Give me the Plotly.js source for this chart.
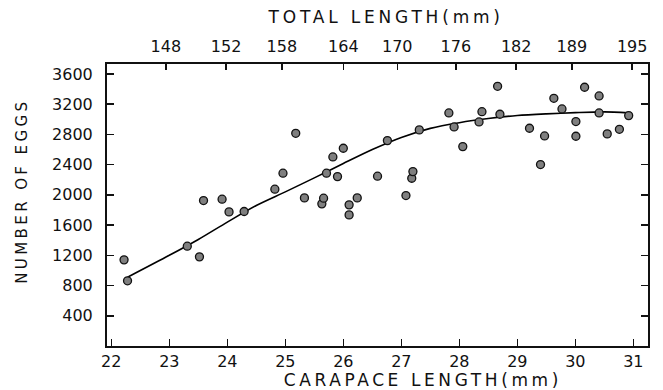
<!DOCTYPE html>
<html>
<head>
<meta charset="utf-8">
<script src="https://cdn.plot.ly/plotly-3.0.1.min.js"></script>
<style>
  html, body { margin: 0; padding: 0; background: #fff; }
  #chart { width: 663px; height: 390px; }
  .annotation[data-index="0"] text { letter-spacing: 3.6px; }
  .annotation[data-index="1"] text { letter-spacing: 3.8px; }
  .annotation[data-index="2"] text { letter-spacing: 3.4px; }
</style>
</head>
<body>
<div id="chart"></div>
<script>
// Egg counts against carapace length (individual females)
const carapaceLength = [
  22.22, 22.28, 23.31, 23.52, 23.59, 23.91, 24.03, 24.29, 24.82, 24.96,
  25.18, 25.33, 25.63, 25.66, 25.71, 25.82, 25.90, 26.00, 26.10, 26.10,
  26.24, 26.59, 26.76, 27.08, 27.18, 27.20, 27.31, 27.82, 27.91, 28.06,
  28.34, 28.39, 28.66, 28.70, 29.21, 29.40, 29.47, 29.63, 29.77, 30.01,
  30.01, 30.16, 30.41, 30.41, 30.55, 30.76, 30.92
];
const eggCount = [
  1140, 863, 1321, 1180, 1925, 1943, 1775, 1780, 2075, 2287,
  2815, 1960, 1881, 1956, 2287, 2502, 2242, 2617, 1868, 1735,
  1960, 2247, 2718, 1991, 2220, 2308, 2860, 3084, 2899, 2639,
  2965, 3101, 3437, 3067, 2882, 2401, 2780, 3278, 3137, 2970,
  2776, 3424, 3309, 3084, 2807, 2868, 3049
];

// Fitted curve
const fitLength = [22.28, 23.0, 23.5, 24.0, 24.5, 25.0, 25.5, 26.0, 26.5, 27.0,
                   27.5, 28.0, 28.5, 29.0, 29.5, 30.0, 30.5, 30.92];
const fitEggs   = [910, 1200, 1410, 1640, 1860, 2040, 2225, 2415, 2600, 2760,
                   2880, 2955, 3010, 3050, 3072, 3088, 3098, 3085];

// Axis ticks
const carapaceTicks = [22, 23, 24, 25, 26, 27, 28, 29, 30, 31];
const eggTicks = [400, 800, 1200, 1600, 2000, 2400, 2800, 3200, 3600];
const eggTickText = ['400', '800', '1200', '1600', '2000', '2400', '2800', '3200', '3600'];
// Total length scale shown along the top, placed at the matching carapace lengths
const totalLengthText = ['148', '152', '158', '164', '170', '176', '182', '189', '195'];
const totalLengthAt   = [22.94, 23.98, 24.94, 26.0, 26.93, 27.94, 28.98, 29.94, 30.98];

const xRange = [21.926, 31.253];
const font = 'DejaVu Sans, Arial, sans-serif';

const traces = [
  {
    x: fitLength, y: fitEggs, type: 'scatter', mode: 'lines',
    line: { color: '#000', width: 1.6, shape: 'spline', smoothing: 0.8 },
    hoverinfo: 'skip', showlegend: false
  },
  {
    x: carapaceLength, y: eggCount, type: 'scatter', mode: 'markers',
    marker: { size: 8, color: '#7f7f7f', line: { color: '#111', width: 1.3 } },
    showlegend: false
  },
  {
    // invisible trace that carries the top axis
    x: xRange, y: [0, 0], xaxis: 'x2', type: 'scatter', mode: 'markers',
    marker: { opacity: 0 }, hoverinfo: 'skip', showlegend: false
  }
];

const layout = {
  width: 663, height: 390,
  margin: { l: 107, r: 15, t: 64, b: 44 },
  paper_bgcolor: '#fff', plot_bgcolor: '#fff',
  font: { family: font, color: '#111', size: 16 },
  xaxis: {
    range: xRange, tickvals: carapaceTicks,
    ticks: 'inside', ticklen: 7, tickwidth: 1.5, tickcolor: '#111',
    showline: true, linecolor: '#111', linewidth: 2,
    showgrid: false, zeroline: false,
    tickfont: { family: font, size: 16, color: '#111' },
    ticklabelstandoff: 0
  },
  xaxis2: {
    overlaying: 'x', side: 'top', range: xRange,
    tickvals: totalLengthAt, ticktext: totalLengthText,
    ticks: 'inside', ticklen: 6, tickwidth: 1.5, tickcolor: '#111',
    showline: true, linecolor: '#111', linewidth: 2,
    showgrid: false, zeroline: false,
    tickfont: { family: font, size: 16, color: '#111' },
    ticklabelstandoff: 4
  },
  yaxis: {
    range: [0, 3732], tickvals: eggTicks, ticktext: eggTickText,
    ticks: 'inside', ticklen: 7, tickwidth: 1.5, tickcolor: '#111',
    showline: true, linecolor: '#111', linewidth: 2, mirror: 'ticks',
    showgrid: false, zeroline: false,
    tickfont: { family: font, size: 16, color: '#111' },
    ticklabelstandoff: 9
  },
  annotations: [
    {
      text: 'CARAPACE LENGTH(mm)', xref: 'paper', yref: 'paper',
      x: 0.585, y: -0.122, xanchor: 'center', yanchor: 'middle',
      showarrow: false, font: { family: font, size: 17, color: '#111' }
    },
    {
      text: 'TOTAL LENGTH(mm)', xref: 'paper', yref: 'paper',
      x: 0.515, y: 1.165, xanchor: 'center', yanchor: 'middle',
      showarrow: false, font: { family: font, size: 17, color: '#111' }
    },
    {
      text: 'NUMBER OF EGGS', xref: 'paper', yref: 'paper',
      x: -0.157, y: 0.55, xanchor: 'center', yanchor: 'middle', textangle: -90,
      showarrow: false, font: { family: font, size: 15, color: '#111' }
    }
  ]
};

Plotly.newPlot('chart', traces, layout, { staticPlot: true, displayModeBar: false });
</script>
</body>
</html>
